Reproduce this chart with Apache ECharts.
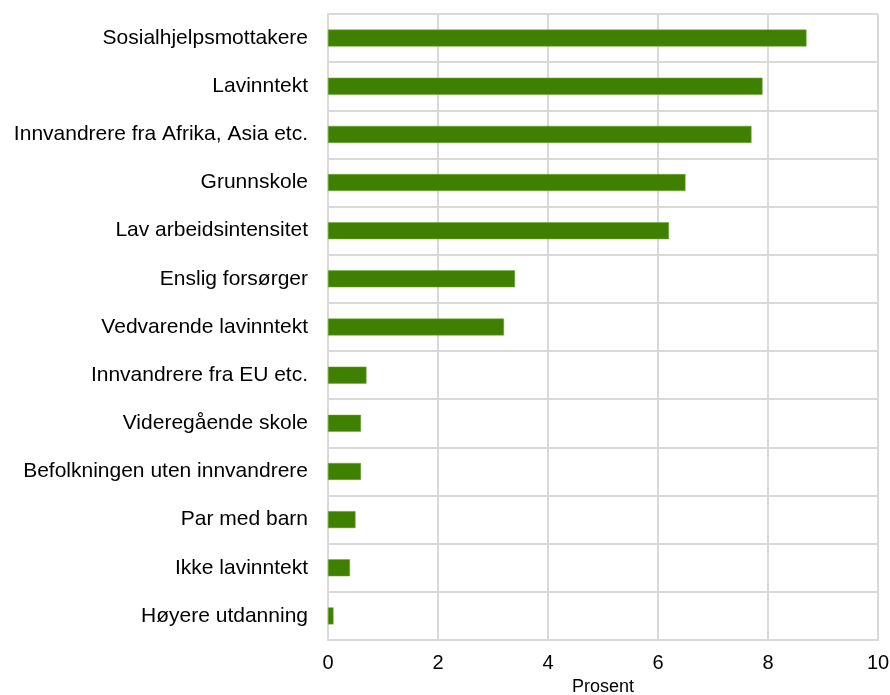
<!DOCTYPE html>
<html>
<head>
<meta charset="utf-8">
<script src="https://cdn.jsdelivr.net/npm/echarts@6/dist/echarts.min.js"></script>
<style>
  html, body { margin: 0; padding: 0; background: #fff; }
  #chart { width: 890px; height: 695px; }
</style>
</head>
<body>
<div id="chart"></div>
<script>
var categories = [
  'Sosialhjelpsmottakere',
  'Lavinntekt',
  'Innvandrere fra Afrika, Asia etc.',
  'Grunnskole',
  'Lav arbeidsintensitet',
  'Enslig forsørger',
  'Vedvarende lavinntekt',
  'Innvandrere fra EU etc.',
  'Videregående skole',
  'Befolkningen uten innvandrere',
  'Par med barn',
  'Ikke lavinntekt',
  'Høyere utdanning'
];
var values = [8.7, 7.9, 7.7, 6.5, 6.2, 3.4, 3.2, 0.7, 0.6, 0.6, 0.5, 0.4, 0.1];
var axisName = 'Prosent';

var myChart = echarts.init(document.getElementById('chart'));
var gridColor = '#d9d9d9';
var option = {
  backgroundColor: '#ffffff',
  animation: false,
  grid: { left: 328, right: 12, top: 14, bottom: 55, containLabel: false, outerBoundsMode: 'none' },
  xAxis: {
    type: 'value',
    min: 0,
    max: 10,
    interval: 2,
    name: axisName,
    nameLocation: 'middle',
    nameGap: 35,
    nameTextStyle: { fontFamily: 'Liberation Sans', fontSize: 18, color: '#000' },
    axisLine: { show: true, lineStyle: { color: gridColor, width: 2 } },
    axisTick: { show: false },
    axisLabel: { fontFamily: 'Liberation Sans', fontSize: 20, color: '#000', margin: 13 },
    splitLine: { show: true, lineStyle: { color: gridColor, width: 2 } }
  },
  yAxis: {
    type: 'category',
    inverse: true,
    data: categories,
    axisLine: { show: true, lineStyle: { color: gridColor, width: 2 } },
    axisTick: { show: false },
    axisLabel: { fontFamily: 'Liberation Sans', fontSize: 21, color: '#000', margin: 20, padding: [4, 0, 0, 0] },
    splitLine: { show: true, lineStyle: { color: gridColor, width: 2 } }
  },
  series: [{
    type: 'bar',
    data: values,
    barWidth: 17,
    itemStyle: { color: '#408000', borderColor: '#6aa83a', borderWidth: 0.5 }
  }]
};
option && myChart.setOption(option);
</script>
</body>
</html>
